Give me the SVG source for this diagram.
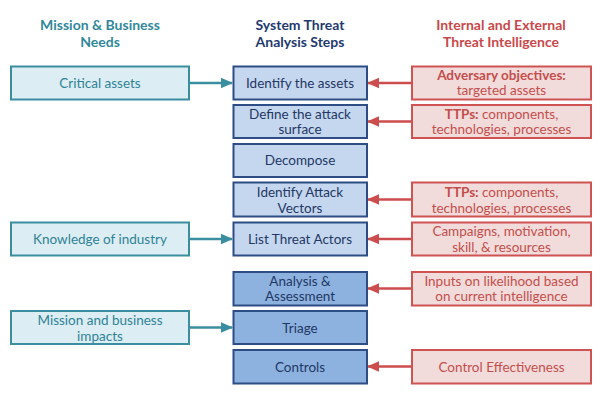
<svg xmlns="http://www.w3.org/2000/svg" width="600" height="400" viewBox="0 0 600 400">
<defs>
<style>
text{font-family:Lato,"Open Sans","Liberation Sans",sans-serif;text-anchor:middle;}
.h{font-size:14px;font-weight:bold;}
.ht{fill:#31889a;} .hc{fill:#1f3a6e;} .hr{fill:#c9484a;}
.lb{fill:#dcedf3;stroke:#3b8ea0;stroke-width:2;}
.lt{fill:#2f8396;font-size:13.5px;}
.cb{fill:#c5d7ef;stroke:#2d4d84;stroke-width:2;}
.cd{fill:#8db2e0;stroke:#2d4d84;stroke-width:2;}
.ct{fill:#1f3864;font-size:13.5px;}
.rb{fill:#f2dcdb;stroke:#d05353;stroke-width:2;}
.rt{fill:#c44e4c;font-size:13.5px;}
.b{font-weight:bold;}
.at{stroke:#3b8ea0;stroke-width:2.5;fill:none;}
.ar{stroke:#cc4d4d;stroke-width:2.5;fill:none;}
</style>
<marker id="mt" viewBox="0 0 10 10" refX="9" refY="5" markerWidth="5" markerHeight="5" orient="auto" markerUnits="strokeWidth"><path d="M0,0.8 L10,5 L0,9.2 z" fill="#3b8ea0"/></marker>
<marker id="mr" viewBox="0 0 10 10" refX="9" refY="5" markerWidth="5" markerHeight="5" orient="auto" markerUnits="strokeWidth"><path d="M0,0.8 L10,5 L0,9.2 z" fill="#cc4d4d"/></marker>
</defs>
<rect width="600" height="400" fill="#fff"/>
<g id="headers">
<text class="h ht" x="100" y="30">Mission &amp; Business</text>
<text class="h ht" x="100" y="47">Needs</text>
<text class="h hc" x="300" y="30">System Threat</text>
<text class="h hc" x="300" y="47">Analysis Steps</text>
<text class="h hr" x="501" y="30">Internal and External</text>
<text class="h hr" x="501" y="47">Threat Intelligence</text>
</g>
<g id="connectors">
<line class="at" x1="189" y1="83" x2="232" y2="83" marker-end="url(#mt)"/>
<line class="at" x1="189" y1="239" x2="232" y2="239" marker-end="url(#mt)"/>
<line class="at" x1="189" y1="327.5" x2="232" y2="327.5" marker-end="url(#mt)"/>
<line class="ar" x1="412" y1="83" x2="368" y2="83" marker-end="url(#mr)"/>
<line class="ar" x1="412" y1="121.5" x2="368" y2="121.5" marker-end="url(#mr)"/>
<line class="ar" x1="412" y1="199.5" x2="368" y2="199.5" marker-end="url(#mr)"/>
<line class="ar" x1="412" y1="239" x2="368" y2="239" marker-end="url(#mr)"/>
<line class="ar" x1="412" y1="288.5" x2="368" y2="288.5" marker-end="url(#mr)"/>
<line class="ar" x1="412" y1="366.5" x2="368" y2="366.5" marker-end="url(#mr)"/>
</g>
<g id="critical-assets"><rect class="lb" x="11" y="66.5" width="178" height="33"/><text class="lt" x="100" y="88">Critical assets</text></g>
<g id="knowledge-of-industry"><rect class="lb" x="11" y="222.5" width="178" height="33"/><text class="lt" x="100" y="244">Knowledge of industry</text></g>
<g id="mission-impacts"><rect class="lb" x="11" y="311" width="178" height="33"/><text class="lt" x="100" y="325">Mission and business</text><text class="lt" x="100" y="341">impacts</text></g>

<g id="identify-assets"><rect class="cb" x="233.5" y="66.5" width="133.5" height="33"/><text class="ct" x="300" y="88">Identify the assets</text></g>
<g id="define-surface"><rect class="cb" x="233.5" y="105" width="133.5" height="33"/><text class="ct" x="300" y="119">Define the attack</text><text class="ct" x="300" y="134">surface</text></g>
<g id="decompose"><rect class="cb" x="233.5" y="144" width="133.5" height="33"/><text class="ct" x="300" y="165">Decompose</text></g>
<g id="identify-vectors"><rect class="cb" x="233.5" y="182.5" width="133.5" height="34"/><text class="ct" x="300" y="197">Identify Attack</text><text class="ct" x="300" y="212.5">Vectors</text></g>
<g id="list-actors"><rect class="cb" x="233.5" y="222.5" width="133.5" height="33"/><text class="ct" x="300" y="244">List Threat Actors</text></g>
<g id="analysis"><rect class="cd" x="233.5" y="272" width="133.5" height="33.5"/><text class="ct" x="300" y="286">Analysis &amp;</text><text class="ct" x="300" y="301">Assessment</text></g>
<g id="triage"><rect class="cd" x="233.5" y="311" width="133.5" height="33"/><text class="ct" x="300" y="332.5">Triage</text></g>
<g id="controls"><rect class="cd" x="233.5" y="350" width="133.5" height="33.5"/><text class="ct" x="300" y="371.5">Controls</text></g>

<g id="adversary-objectives"><rect class="rb" x="412" y="66.5" width="179" height="33"/><text class="rt" x="501.5" y="80"><tspan class="b">Adversary objectives:</tspan></text><text class="rt" x="501.5" y="95">targeted assets</text></g>
<g id="ttps-1"><rect class="rb" x="412" y="105" width="179" height="33"/><text class="rt" x="501.5" y="119"><tspan class="b">TTPs:</tspan> components,</text><text class="rt" x="501.5" y="134">technologies, processes</text></g>
<g id="ttps-2"><rect class="rb" x="412" y="182.5" width="179" height="34"/><text class="rt" x="501.5" y="197"><tspan class="b">TTPs:</tspan> components,</text><text class="rt" x="501.5" y="212.5">technologies, processes</text></g>
<g id="campaigns"><rect class="rb" x="412" y="222.5" width="179" height="33"/><text class="rt" x="501.5" y="236">Campaigns, motivation,</text><text class="rt" x="501.5" y="251.5">skill, &amp; resources</text></g>
<g id="likelihood"><rect class="rb" x="412" y="272" width="179" height="33.5"/><text class="rt" x="501.5" y="286">Inputs on likelihood based</text><text class="rt" x="501.5" y="301">on current intelligence</text></g>
<g id="control-effectiveness"><rect class="rb" x="412" y="350" width="179" height="33.5"/><text class="rt" x="501.5" y="371.5">Control Effectiveness</text></g>
</svg>
